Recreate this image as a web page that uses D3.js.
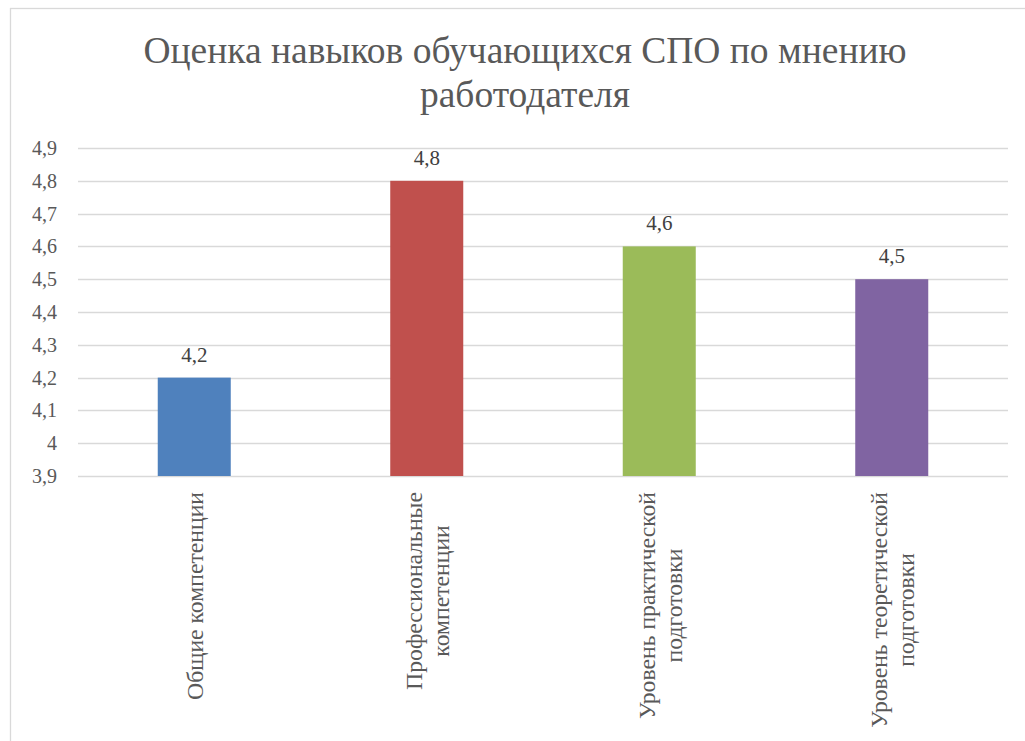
<!DOCTYPE html>
<html>
<head>
<meta charset="utf-8">
<script src="https://cdn.jsdelivr.net/npm/d3@7"></script>
<style>
  body { margin: 0; background: #fff; font-family: 'Liberation Serif', 'Times New Roman', serif; }
  svg { display: block; }
</style>
</head>
<body>
<div id="chart"></div>
<script>
// chart values
var titleLines = ["Оценка навыков обучающихся СПО по мнению", "работодателя"];
var categories = [
  ["Общие компетенции"],
  ["Профессиональные", "компетенции"],
  ["Уровень практической", "подготовки"],
  ["Уровень теоретической", "подготовки"]
];
var values = [4.2, 4.8, 4.6, 4.5];
var valueLabels = ["4,2", "4,8", "4,6", "4,5"];
var yTicks = [3.9, 4.0, 4.1, 4.2, 4.3, 4.4, 4.5, 4.6, 4.7, 4.8, 4.9];
var colors = ["#4f81bd", "#c0504d", "#9bbb59", "#8064a2"];

var width = 1025, height = 741;
var FONT = "'Liberation Serif', 'Times New Roman', Tinos";

var svg = d3.select("#chart").append("svg")
    .attr("width", width)
    .attr("height", height)
    .style("font-family", FONT);

// chart frame
svg.append("rect")
    .attr("x", 10.5)
    .attr("y", 8.5)
    .attr("width", 1030)
    .attr("height", 760)
    .attr("fill", "#fff")
    .attr("stroke", "#d9d9d9")
    .attr("stroke-width", 1.3);

// title
svg.selectAll("text.title")
    .data(titleLines)
    .enter().append("text")
    .attr("class", "title")
    .attr("x", 525)
    .attr("y", function(d, i) { return 63 + i * 44; })
    .attr("text-anchor", "middle")
    .style("font-family", FONT)
    .attr("font-size", 37.5)
    .attr("fill", "#595959")
    .text(String);

var x = d3.scaleBand()
    .domain(d3.range(categories.length))
    .range([78, 1008])
    .paddingInner(0.686)
    .paddingOuter(0.343);

var y = d3.scaleLinear()
    .domain([3.9, 4.9])
    .range([476, 148]);

// gridlines
svg.selectAll("line.grid")
    .data(yTicks)
    .enter().append("line")
    .attr("class", "grid")
    .attr("x1", 78)
    .attr("x2", 1008)
    .attr("y1", function(d) { return Math.round(y(d)) + 0.5; })
    .attr("y2", function(d) { return Math.round(y(d)) + 0.5; })
    .attr("stroke", "#d9d9d9")
    .attr("stroke-width", 1.5);

// y tick labels
svg.selectAll("text.tick")
    .data(yTicks)
    .enter().append("text")
    .attr("class", "tick")
    .attr("x", 57)
    .attr("y", function(d) { return y(d); })
    .attr("dy", ".35em")
    .attr("text-anchor", "end")
    .style("font-family", FONT)
    .attr("font-size", 20)
    .attr("fill", "#595959")
    .text(function(d) { return d3.format(".1f")(d).replace(".0", "").replace(".", ","); });

// bars
svg.selectAll("rect.bar")
    .data(values)
    .enter().append("rect")
    .attr("class", "bar")
    .attr("x", function(d, i) { return x(i); })
    .attr("y", function(d) { return y(d); })
    .attr("width", x.bandwidth())
    .attr("height", function(d) { return y(3.9) - y(d); })
    .attr("fill", function(d, i) { return colors[i]; });

// value labels
svg.selectAll("text.value")
    .data(values)
    .enter().append("text")
    .attr("class", "value")
    .attr("x", function(d, i) { return x(i) + x.bandwidth() / 2; })
    .attr("y", function(d) { return y(d) - 16; })
    .attr("text-anchor", "middle")
    .style("font-family", FONT)
    .attr("font-size", 21)
    .attr("fill", "#404040")
    .text(function(d, i) { return valueLabels[i]; });

// category labels, rotated, top aligned and lines centred on each other
var labelTop = 492, lineH = 27;
categories.forEach(function(lines, i) {
  var cx = x(i) + x.bandwidth() / 2;
  var g = svg.append("g");
  var texts = g.selectAll("text")
      .data(lines)
      .enter().append("text")
      .style("font-family", FONT)
      .attr("font-size", 23.7)
      .attr("fill", "#595959")
      .attr("text-anchor", "middle")
      .text(String);
  var maxLen = d3.max(texts.nodes(), function(n) { return n.getComputedTextLength(); });
  texts.attr("transform", function(d, j) {
    var bx = cx + 9 + (j - (lines.length - 1) / 2) * lineH;
    return "translate(" + bx + "," + (labelTop + maxLen / 2) + ") rotate(-90)";
  });
});
</script>
</body>
</html>
